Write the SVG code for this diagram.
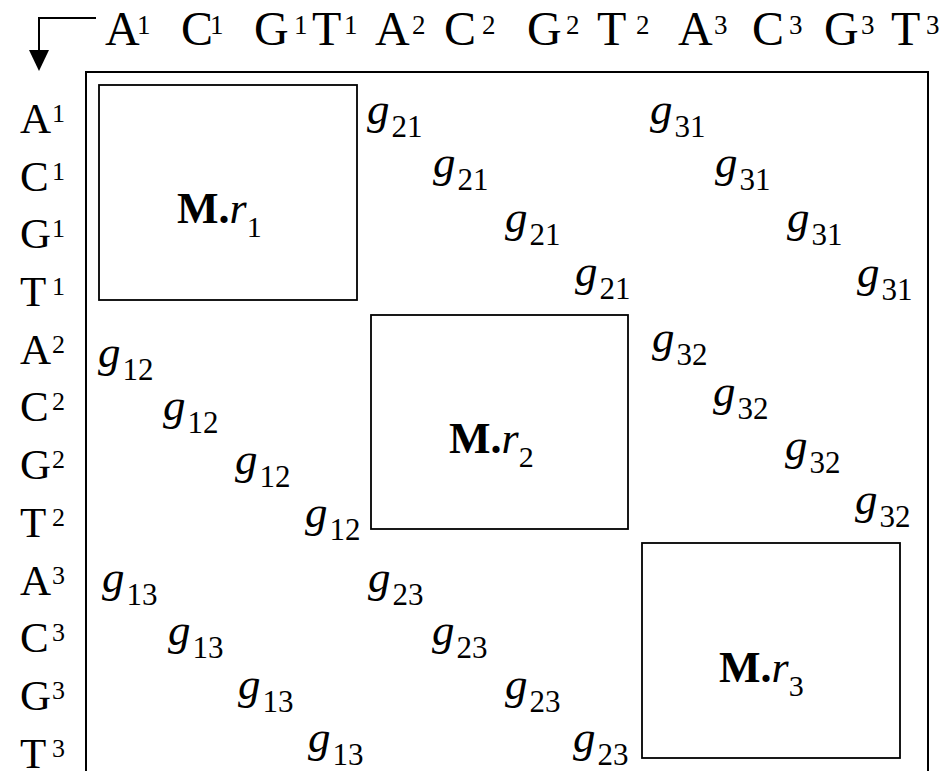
<svg xmlns="http://www.w3.org/2000/svg" width="951" height="771" viewBox="0 0 951 771">
<style>
text{font-family:"Liberation Serif","Times New Roman",serif;fill:#000}
.top{font-size:48px}
.tsup{font-size:27px}
.row{font-size:43px}
.rsup{font-size:26px}
.g{font-size:45px;font-style:italic}
.sub{font-size:31px;font-style:normal}
.box{fill:none;stroke:#000;stroke-width:1.8}
.frame{fill:none;stroke:#000;stroke-width:2}
.ml{font-size:44px}
.mb{font-weight:bold}
.mi{font-style:italic}
.ms{font-size:30px}
</style>
<rect width="951" height="771" fill="#fff"/>

<g id="connectors">
<path d="M96 18 H39 V50" fill="none" stroke="#000" stroke-width="2"/>
<path d="M29 50 L49 50 L39 71 Z" fill="#000"/>
</g>

<g id="frame">
<path class="frame" d="M86 772 V72 H928 V772"/>
</g>

<g id="column-labels" class="top">
<text x="105" y="45">A</text><text class="tsup" x="137" y="34">1</text>
<text x="181" y="45">C</text><text class="tsup" x="210" y="34">1</text>
<text x="254" y="45">G</text><text class="tsup" x="294" y="34">1</text>
<text x="312" y="45">T</text><text class="tsup" x="344" y="34">1</text>
<text x="375" y="45">A</text><text class="tsup" x="412" y="34">2</text>
<text x="444" y="45">C</text><text class="tsup" x="482" y="34">2</text>
<text x="527" y="45">G</text><text class="tsup" x="566" y="34">2</text>
<text x="597" y="45">T</text><text class="tsup" x="636" y="34">2</text>
<text x="678" y="45">A</text><text class="tsup" x="714" y="34">3</text>
<text x="752" y="45">C</text><text class="tsup" x="789" y="34">3</text>
<text x="824" y="45">G</text><text class="tsup" x="861" y="34">3</text>
<text x="891" y="45">T</text><text class="tsup" x="926" y="34">3</text>
</g>

<g id="row-labels" class="row">
<text x="20" y="133">A</text><text class="rsup" x="52" y="122">1</text>
<text x="20" y="191">C</text><text class="rsup" x="52" y="180">1</text>
<text x="20" y="248">G</text><text class="rsup" x="52" y="237">1</text>
<text x="20" y="306">T</text><text class="rsup" x="52" y="295">1</text>
<text x="20" y="364">A</text><text class="rsup" x="52" y="353">2</text>
<text x="20" y="421">C</text><text class="rsup" x="52" y="410">2</text>
<text x="20" y="479">G</text><text class="rsup" x="52" y="468">2</text>
<text x="20" y="537">T</text><text class="rsup" x="52" y="526">2</text>
<text x="20" y="595">A</text><text class="rsup" x="52" y="584">3</text>
<text x="20" y="652">C</text><text class="rsup" x="52" y="641">3</text>
<text x="20" y="710">G</text><text class="rsup" x="52" y="699">3</text>
<text x="20" y="768">T</text><text class="rsup" x="52" y="757">3</text>
</g>

<g id="node-r1">
<rect class="box" x="99" y="85" width="258" height="215"/>
<text class="ml" x="177" y="223"><tspan class="mb">M.</tspan><tspan class="mi">r</tspan><tspan class="ms" dy="14">1</tspan></text>
</g>
<g id="node-r2">
<rect class="box" x="371" y="315" width="257" height="214"/>
<text class="ml" x="449" y="453"><tspan class="mb">M.</tspan><tspan class="mi">r</tspan><tspan class="ms" dy="14">2</tspan></text>
</g>
<g id="node-r3">
<rect class="box" x="642" y="543" width="258" height="215"/>
<text class="ml" x="719" y="682"><tspan class="mb">M.</tspan><tspan class="mi">r</tspan><tspan class="ms" dy="14">3</tspan></text>
</g>

<g id="g21" class="g">
<text x="367" y="124">g<tspan class="sub" dx="2" dy="13">21</tspan></text>
<text x="433" y="177">g<tspan class="sub" dx="2" dy="13">21</tspan></text>
<text x="505" y="232">g<tspan class="sub" dx="2" dy="13">21</tspan></text>
<text x="575" y="286">g<tspan class="sub" dx="2" dy="13">21</tspan></text>
</g>
<g id="g31" class="g">
<text x="650" y="124">g<tspan class="sub" dx="2" dy="13">31</tspan></text>
<text x="715" y="177">g<tspan class="sub" dx="2" dy="13">31</tspan></text>
<text x="787" y="232">g<tspan class="sub" dx="2" dy="13">31</tspan></text>
<text x="857" y="287">g<tspan class="sub" dx="2" dy="13">31</tspan></text>
</g>
<g id="g12" class="g">
<text x="98" y="367">g<tspan class="sub" dx="2" dy="13">12</tspan></text>
<text x="163" y="420">g<tspan class="sub" dx="2" dy="13">12</tspan></text>
<text x="235" y="474">g<tspan class="sub" dx="2" dy="13">12</tspan></text>
<text x="305" y="527">g<tspan class="sub" dx="2" dy="13">12</tspan></text>
</g>
<g id="g32" class="g">
<text x="652" y="352">g<tspan class="sub" dx="2" dy="13">32</tspan></text>
<text x="713" y="406">g<tspan class="sub" dx="2" dy="13">32</tspan></text>
<text x="785" y="460">g<tspan class="sub" dx="2" dy="13">32</tspan></text>
<text x="855" y="514">g<tspan class="sub" dx="2" dy="13">32</tspan></text>
</g>
<g id="g13" class="g">
<text x="102" y="592">g<tspan class="sub" dx="2" dy="13">13</tspan></text>
<text x="168" y="645">g<tspan class="sub" dx="2" dy="13">13</tspan></text>
<text x="238" y="699">g<tspan class="sub" dx="2" dy="13">13</tspan></text>
<text x="308" y="752">g<tspan class="sub" dx="2" dy="13">13</tspan></text>
</g>
<g id="g23" class="g">
<text x="368" y="592">g<tspan class="sub" dx="2" dy="13">23</tspan></text>
<text x="432" y="645">g<tspan class="sub" dx="2" dy="13">23</tspan></text>
<text x="505" y="699">g<tspan class="sub" dx="2" dy="13">23</tspan></text>
<text x="573" y="752">g<tspan class="sub" dx="2" dy="13">23</tspan></text>
</g>
</svg>
